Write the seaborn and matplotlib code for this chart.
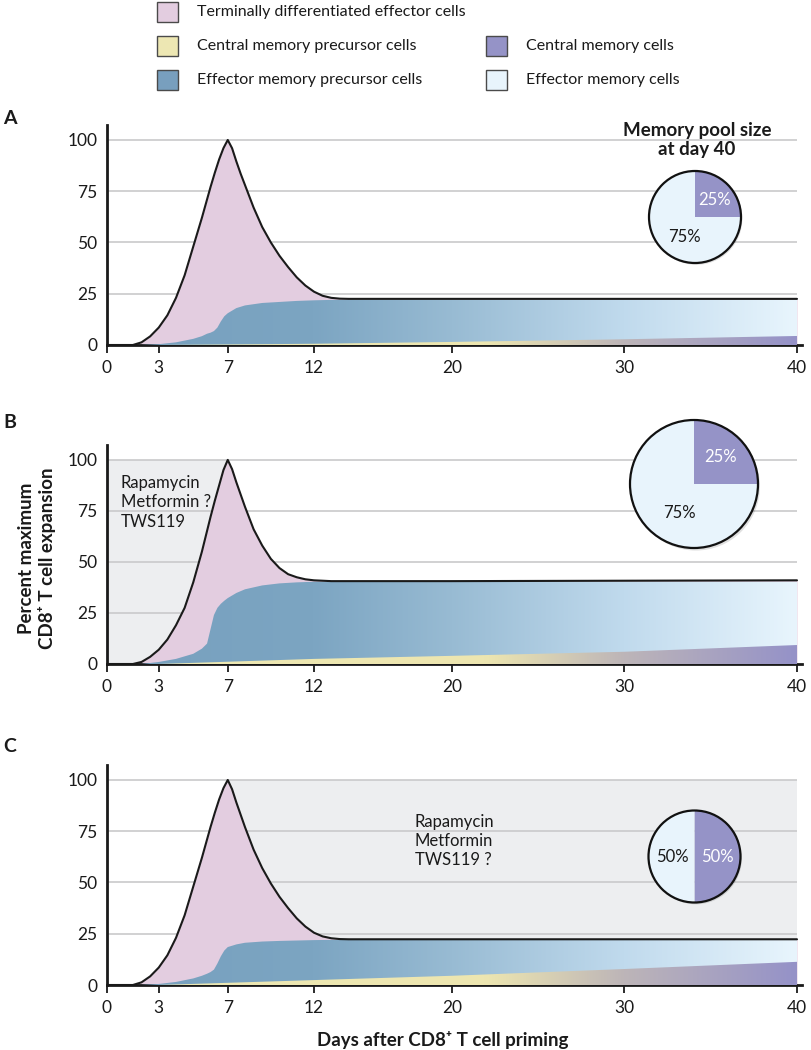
import numpy as np
import matplotlib
matplotlib.use('Agg')
import matplotlib.pyplot as plt
import seaborn as sns
from matplotlib.colors import LinearSegmentedColormap
from matplotlib.patches import Rectangle

# ---- values ----
days_total = [0, 1.5, 2, 2.5, 3, 3.5, 4, 4.5, 5, 5.5, 6, 6.25, 6.5, 6.75, 7, 7.25, 7.5, 7.75,
              8, 8.5, 9, 9.5, 10, 10.5, 11, 11.5, 12, 12.5, 13, 13.5, 14, 20, 30, 40]
total_a = [0, 0, 1.3, 4.2, 8.5, 14.5, 23, 34, 48, 62, 77, 84, 90.5, 96, 100, 96, 89.5, 83.5,
           78, 67, 57.5, 50, 43.5, 38, 33, 29, 26, 24, 23, 22.6, 22.5, 22.5, 22.5, 22.5]
total_b = [0, 0, 1, 3.5, 7, 12, 19, 27.5, 40, 55, 72, 80, 87.5, 95, 100, 95.5, 89, 83,
           77, 66, 58, 51.5, 47, 44, 42.5, 41.5, 41, 40.8, 40.6, 40.6, 40.6, 40.6, 40.8, 41]
total_c = [0, 0, 1.3, 4.2, 8.5, 14.5, 23, 34, 48, 62, 77, 84, 90.5, 96, 100, 95.5, 89, 83,
           77, 66, 57, 49.5, 43, 37.5, 32.5, 28.5, 25.5, 23.7, 22.8, 22.4, 22.3, 22.3, 22.3, 22.3]

days_blue = [0, 2, 3, 4, 5, 5.5, 5.8, 6, 6.2, 6.4, 6.6, 6.8, 7, 7.5, 8, 9, 10, 11, 12, 13, 20, 30, 40]
blue_a = [0, 0, 0.4, 1.3, 3, 4.3, 5.5, 6, 6.8, 8.5, 11.5, 14, 15.5, 18, 19.3, 20.5, 21, 21.5, 21.8, 22, 22, 22, 22]
blue_b = [0, 0, 1, 2.5, 5, 7.5, 10, 17, 24, 27.5, 29.5, 31, 32.3, 34.8, 36.6, 38.5, 39.5, 40, 40.3, 40.3, 40.3, 40.3, 40.3]
blue_c = [0, 0, 0.5, 1.5, 3.2, 4.5, 5.5, 6.3, 7.5, 10.5, 14, 16.8, 18.5, 19.8, 20.6, 21.2, 21.5, 21.7, 21.9, 22, 22, 22, 22]

days_wedge = [0, 3, 12, 20, 30, 40]
wedge_a = [0, 0, 0.6, 1.5, 2.8, 4.4]
wedge_b = [0, 0, 2.5, 4, 6, 9.3]
wedge_c = [0, 0, 2.4, 4.5, 7.8, 11.3]

tick_days = [0, 3, 7, 12, 20, 30, 40]
y_ticks = [0, 25, 50, 75, 100]
grid_levels = [25, 50, 75, 100]
shade_b = [0, 7]
shade_c = [7, 40]

pool_labels = ['Central memory cells', 'Effector memory cells']
pool_a = [25, 75]
pool_b = [25, 75]
pool_c = [50, 50]

legend_names = ['Terminally differentiated effector cells', 'Central memory precursor cells',
                'Effector memory precursor cells', 'Central memory cells', 'Effector memory cells']

PINK = '#E3CDE0'
YELLOW = '#EDE7B3'
STEEL = '#789FBE'
PURPLE = '#9593C7'
LIGHT = '#E8F4FC'
SHADE = '#EDEEF0'
GRID = '#C9C9CB'

blue_cmap = LinearSegmentedColormap.from_list(
    'em', [(0, '#77A0BE'), (0.3, '#7CA5C2'), (0.5, '#98BBD3'), (0.75, '#C0DAED'), (1, '#E8F5FD')])
wedge_cmap = LinearSegmentedColormap.from_list(
    'cm', [(0, '#EEE9B4'), (0.55, '#EDE6B0'), (0.75, '#BDB5B8'), (1, '#9592C8')])

sns.set_theme(style='white')
plt.rcParams['font.family'] = ['Lato', 'DejaVu Sans']
plt.rcParams['text.color'] = '#1a1a1a'

W, H = 812, 1050
fig = plt.figure(figsize=(W / 100, H / 100), dpi=100)


def fx(px):
    return px / W


def fy(py):
    return 1 - py / H


def gradient_fill(ax, x, y, cmap, z):
    # fill area under y with a left-to-right colour ramp
    poly = ax.fill_between(x, 0, y, facecolor='none', edgecolor='none', zorder=z)
    grad = np.linspace(0, 1, 256).reshape(1, -1)
    im = ax.imshow(grad, cmap=cmap, extent=[0, 40, 0, 110], aspect='auto',
                   origin='lower', zorder=z, interpolation='bicubic')
    im.set_clip_path(poly.get_paths()[0], ax.transData)


def draw_pie(cx, cy, r, values, texts):
    pax = fig.add_axes([fx(cx - r - 4), fy(cy + r + 4), fx(2 * r + 8), (2 * r + 8) / H])
    pax.add_patch(plt.Circle((0.03, -0.04), 1, facecolor='#000000', alpha=0.12,
                             edgecolor='none', zorder=0))
    pax.pie(values, colors=[PURPLE, LIGHT], startangle=90, counterclock=False,
            wedgeprops=dict(edgecolor='none', zorder=1))
    pax.add_patch(plt.Circle((0, 0), 1, facecolor='none', edgecolor='#111111', lw=1.6, zorder=5))
    for (tx, ty, s, col) in texts:
        pax.text(tx, ty, s, ha='center', va='center', fontsize=12, color=col, zorder=6)
    lim = 1 + 4 / r
    pax.set_xlim(-lim, lim)
    pax.set_ylim(-lim, lim)
    pax.axis('off')


def draw_panel(bottom_px, top_px, total, blue, wedge, shade, letter, letter_py):
    ax = fig.add_axes([fx(107), fy(bottom_px), fx(695), (bottom_px - top_px) / H])
    if shade is not None:
        ax.fill_between(shade, 0, 100, color=SHADE, lw=0, zorder=0)
    ax.hlines(grid_levels, 0, 40, color=GRID, lw=1.2, zorder=1)
    ax.fill_between(days_total, 0, total, color=PINK, lw=0, zorder=2)
    gradient_fill(ax, days_blue, blue, blue_cmap, 3)
    gradient_fill(ax, days_wedge, wedge, wedge_cmap, 4)
    sns.lineplot(x=days_total, y=total, ax=ax, color='#1a1a1a', lw=1.5, zorder=5,
                 sort=False, estimator=None)
    ax.set_xlim(0, 40.29)
    ax.set_ylim(0, 107.3)
    ax.set_xticks(tick_days)
    ax.set_xticklabels([str(d) for d in tick_days])
    ax.set_yticks(y_ticks)
    ax.set_yticklabels([str(v) for v in y_ticks])
    ax.tick_params(axis='x', bottom=True, direction='out', length=6, width=1.3,
                   color='#1a1a1a', pad=5, labelsize=12.5, labelcolor='#1a1a1a')
    ax.tick_params(axis='y', left=False, length=0, pad=7, labelsize=12.5, labelcolor='#1a1a1a')
    for s in ['top', 'right']:
        ax.spines[s].set_visible(False)
    for s in ['left', 'bottom']:
        ax.spines[s].set_color('#1a1a1a')
        ax.spines[s].set_linewidth(2)
    ax.set_xlabel('')
    ax.set_ylabel('')
    fig.text(fx(3), fy(letter_py), letter, fontsize=14, fontweight='bold', va='center', ha='left')
    return ax


ax_a = draw_panel(345, 125, total_a, blue_a, wedge_a, None, 'A', 119)
ax_b = draw_panel(664, 445, total_b, blue_b, wedge_b, shade_b, 'B', 422)
ax_c = draw_panel(985, 765, total_c, blue_c, wedge_c, shade_c, 'C', 747)

# treatment annotations
ax_b.text(0.8, 92.5, 'Rapamycin\nMetformin ?\nTWS119', fontsize=12, va='top', ha='left',
          linespacing=1.25, zorder=6)
ax_c.text(17.85, 83.5, 'Rapamycin\nMetformin\nTWS119 ?', fontsize=12, va='top', ha='left',
          linespacing=1.25, zorder=6)

# memory pool pies
fig.text(fx(697), fy(140), 'Memory pool size\nat day 40', fontsize=13.5, fontweight='bold',
         ha='center', va='center', linespacing=1.2)
draw_pie(695, 217, 46, pool_a, [(0.43, 0.37, f'{pool_a[0]}%', 'white'),
                                (-0.22, -0.43, f'{pool_a[1]}%', '#1a1a1a')])
draw_pie(694, 484, 64, pool_b, [(0.42, 0.42, f'{pool_b[0]}%', 'white'),
                                (-0.22, -0.45, f'{pool_b[1]}%', '#1a1a1a')])
draw_pie(694.5, 856.5, 46, pool_c, [(0.5, 0.0, f'{pool_c[0]}%', 'white'),
                                    (-0.49, 0.0, f'{pool_c[1]}%', '#1a1a1a')])

# axis titles
fig.text(fx(37), fy(558), 'Percent maximum\nCD8\u207a T cell expansion', rotation=90,
         fontsize=13.5, fontweight='bold', ha='center', va='center', linespacing=1.15)
fig.text(fx(443), fy(1040), 'Days after CD8\u207a T cell priming', fontsize=13.5,
         fontweight='bold', ha='center', va='center')

# legend
legend_items = [
    (157, 12, PINK, legend_names[0]),
    (157, 46, YELLOW, legend_names[1]),
    (157, 80, STEEL, legend_names[2]),
    (486, 46, PURPLE, legend_names[3]),
    (486, 80, LIGHT, legend_names[4]),
]
for (lx, ly, col, name) in legend_items:
    fig.add_artist(Rectangle((fx(lx), fy(ly + 10)), fx(21), 20 / H, transform=fig.transFigure,
                             facecolor=col, edgecolor='#4a4a4a', lw=1))
    fig.text(fx(lx + 40), fy(ly), name, fontsize=11.5, ha='left', va='center')

fig.savefig('out.png', dpi=100)
